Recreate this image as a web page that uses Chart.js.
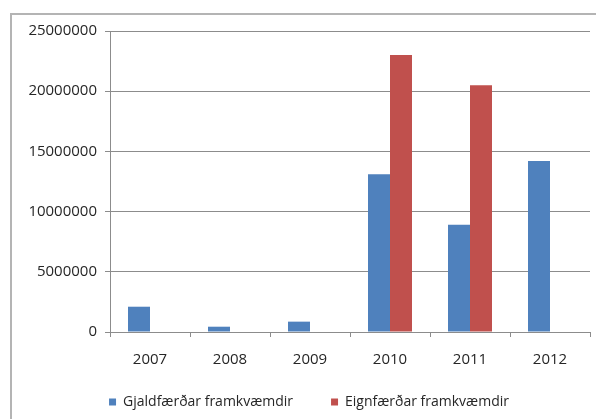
<!DOCTYPE html>
<html lang="is">
<head>
  <meta charset="UTF-8">
  <title>Framkvæmdir 2007-2012</title>
  <script src="https://cdn.jsdelivr.net/npm/chart.js"></script>
  <style>
    body { margin: 0; background: #fff; }
    #rammi {
      position: absolute; left: 10px; top: 13px;
      width: 700px; height: 500px;
      border-left: 2px solid #b4b4b4; border-top: 2px solid #b4b4b4;
    }
    #graf { position: absolute; left: 0; top: 0; }
  </style>
</head>
<body>
  <div id="rammi"></div>
  <canvas id="graf" width="596" height="419"></canvas>

  <script>
    // ár og gildi
    const ar = ['2007', '2008', '2009', '2010', '2011', '2012'];
    const gjaldfaert = [2100000, 440000, 860000, 13100000, 8900000, 14200000];
    const eignfaert = [0, 0, 0, 23000000, 20500000, 0];

    const letur = "'Open Sans', sans-serif";
    const litur = '#262626';

    // meira bil milli atriða í skýringunni án þess að hún verði hærri
    const skyringarBil = {
      id: 'skyringarBil',
      afterLayout(chart) {
        const lg = chart.legend;
        const auka = 28;
        lg.options.labels.padding += auka;
        lg.top -= auka;
        lg.left -= auka / 2;
        lg.right -= auka / 2;
      }
    };

    const ctx = document.getElementById('graf').getContext('2d');
    new Chart(ctx, {
      type: 'bar',
      data: {
        labels: ar,
        datasets: [
          {
            label: 'Gjaldfærðar framkvæmdir',
            data: gjaldfaert,
            backgroundColor: '#4F81BD'
          },
          {
            label: 'Eignfærðar framkvæmdir',
            data: eignfaert,
            backgroundColor: '#C0504D'
          }
        ]
      },
      plugins: [skyringarBil],
      options: {
        responsive: false,
        animation: false,
        layout: { padding: { top: 31, right: 6, left: 0, bottom: 0 } },
        datasets: { bar: { categoryPercentage: 0.55, barPercentage: 1 } },
        plugins: {
          tooltip: { enabled: false },
          legend: {
            position: 'bottom',
            labels: {
              boxWidth: 7, boxHeight: 7, padding: 10,
              color: litur,
              font: { family: letur, size: 14 }
            }
          }
        },
        scales: {
          x: {
            afterFit: s => { s.height = 53; },
            grid: { offset: true, drawOnChartArea: false, tickLength: 5, color: '#8c8c8c' },
            border: { color: '#8c8c8c' },
            ticks: { color: litur, padding: 14, font: { family: letur, size: 15 } }
          },
          y: {
            min: 0, max: 25000000,
            afterFit: s => { s.width = 110; },
            grid: { color: '#8c8c8c', tickLength: 5 },
            border: { color: '#8c8c8c' },
            ticks: {
              stepSize: 5000000, padding: 8, color: litur,
              font: { family: letur, size: 15 },
              callback: v => String(v)
            }
          }
        }
      }
    });
  </script>
</body>
</html>
